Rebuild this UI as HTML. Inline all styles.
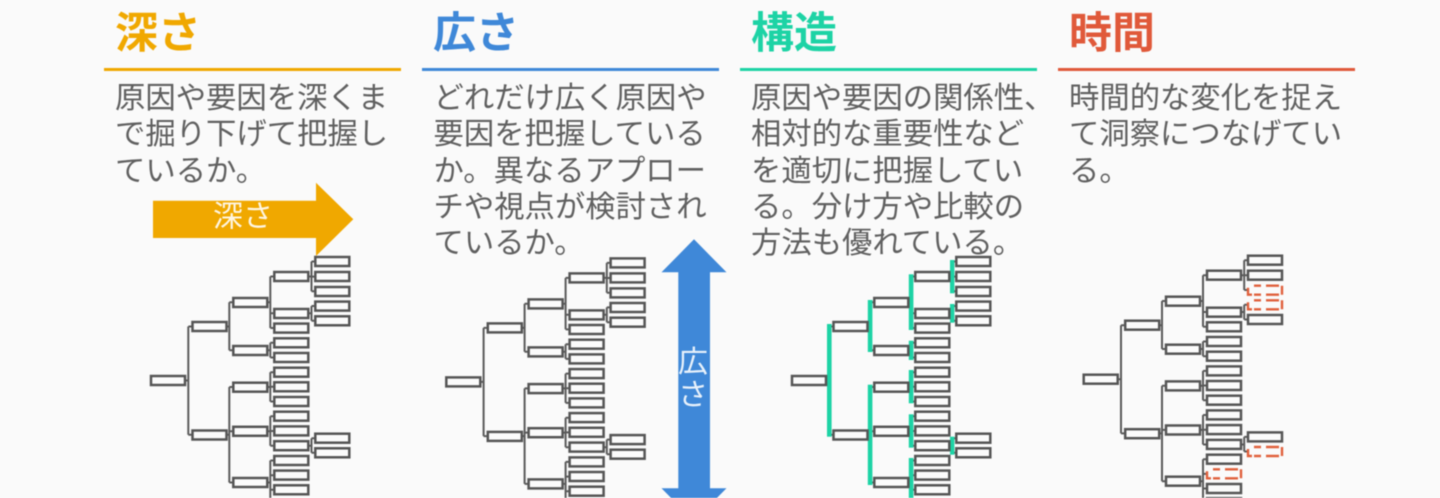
<!DOCTYPE html>
<html lang="ja">
<head>
<meta charset="utf-8">
<title>深さ 広さ 構造 時間</title>
<style>
html,body{margin:0;padding:0;background:#fafafa;width:1440px;height:498px;overflow:hidden}
svg{display:block;position:absolute;left:0;top:0;filter:blur(0.45px)}
text{font-family:"Liberation Sans","Noto Sans CJK JP",sans-serif}
.t{font-size:43px;font-weight:700}
.b{font-size:30.35px;fill:#606060}
.a{font-size:30px;fill:rgba(255,255,255,.88);font-weight:400;text-anchor:middle}
.box rect,rect.box{fill:#fbfbfb;stroke:#555;stroke-width:2.5}
.ln{fill:none;stroke:#5a5a5a;stroke-width:2}
.dash{fill:none;stroke:#e0603c;stroke-width:2.4;stroke-dasharray:0 6 7 5 13 3 9 3 13 5 7 2 11 4}
.g{fill:#1dd3a5}
</style>
</head>
<body>
<svg width="1440" height="498" viewBox="0 0 1440 498" xmlns="http://www.w3.org/2000/svg">
<defs>
<path id="lines" class="ln" d="M186 380.5H188.3M188.3 326.5V434.7M188.3 326.5H192M188.3 434.7H192
M227 326.5H229.3M229.3 302.3V350.3M229.3 302.3H233M229.3 350.3H233
M227 434.7H229.3M229.3 387V482.5M229.3 387H233M229.3 431.2H233M229.3 482.5H233
M268 302.3H270.3M270.3 276.5V328M270.3 276.5H274M270.3 313.3H274M270.3 328H274
M268 350.3H270.3M270.3 342.8V357.5M270.3 342.8H274M270.3 357.5H274
M268 387H270.3M270.3 372.2V401.5M270.3 372.2H274M270.3 386.8H274M270.3 401.5H274
M268 431.2H270.3M270.3 416.3V445.8M270.3 416.3H274M270.3 431H274M270.3 445.8H274
M268 482.5H270.3M270.3 460.5V502M270.3 460.5H274M270.3 475.2H274M270.3 489.8H274
M309 276.5H311.5M311.5 261.5V291.3M311.5 261.5H315M311.5 276.6H315M311.5 291.3H315
M309 313.3H311.5M311.5 306V320.8M311.5 306H315M311.5 320.8H315
M309 445.8H311.5M311.5 438.2V452.8M311.5 438.2H315M311.5 452.8H315"/>
<g id="boxes" class="box">
<rect x="151" y="376" width="34" height="9"/>
<rect x="192.5" y="322" width="34" height="9"/>
<rect x="192.5" y="430.5" width="34" height="9"/>
<rect x="233.3" y="298" width="34" height="9"/>
<rect x="233.3" y="346" width="34" height="9"/>
<rect x="233.3" y="382.7" width="34" height="9"/>
<rect x="233.3" y="426.8" width="34" height="9"/>
<rect x="233.3" y="478" width="34" height="9"/>
<rect x="274.3" y="272" width="34" height="9"/>
<rect x="274.3" y="309" width="34" height="9"/>
<rect x="274.3" y="323.6" width="34" height="9"/>
<rect x="274.3" y="338.3" width="34" height="9"/>
<rect x="274.3" y="353" width="34" height="9"/>
<rect x="274.3" y="367.7" width="34" height="9"/>
<rect x="274.3" y="382.3" width="34" height="9"/>
<rect x="274.3" y="397" width="34" height="9"/>
<rect x="274.3" y="411.7" width="34" height="9"/>
<rect x="274.3" y="426.4" width="34" height="9"/>
<rect x="274.3" y="441.2" width="34" height="9"/>
<rect x="274.3" y="456" width="34" height="9"/>
<rect x="274.3" y="485.3" width="34" height="9"/>
<rect x="315.3" y="257" width="34" height="9"/>
<rect x="315.3" y="272" width="34" height="9"/>
<rect x="315.3" y="316.3" width="34" height="9"/>
<rect x="315.3" y="433.7" width="34" height="9"/>
</g>
<g id="extra" class="box">
<rect x="274.3" y="470.6" width="34" height="9"/>
<rect x="315.3" y="287" width="34" height="9"/>
<rect x="315.3" y="301.6" width="34" height="9"/>
<rect x="315.3" y="448.3" width="34" height="9"/>
</g>
</defs>

<!-- Titles -->
<text class="t" x="115" y="48" fill="#f0a800">深さ</text>
<text class="t" x="433" y="48" fill="#3f88d8">広さ</text>
<text class="t" x="751" y="48" fill="#1dd3a5">構造</text>
<text class="t" x="1069" y="48" fill="#e0593a">時間</text>

<!-- Rules -->
<rect x="104" y="68" width="297" height="3" fill="#f0a800"/>
<rect x="422" y="68" width="297" height="3" fill="#3f88d8"/>
<rect x="740" y="68" width="297" height="3" fill="#1dd3a5"/>
<rect x="1058" y="68" width="297" height="3" fill="#e0593a"/>

<!-- Body text -->
<g class="b">
<text class="b" x="115" y="108">原因や要因を深くま</text>
<text class="b" x="115" y="144">で掘り下げて把握し</text>
<text class="b" x="115" y="181">ているか。</text>

<text class="b" x="433.5" y="108">どれだけ広く原因や</text>
<text class="b" x="433.5" y="144">要因を把握している</text>
<text class="b" x="433.5" y="181">か。異なるアプロー</text>
<text class="b" x="433.5" y="217">チや視点が検討され</text>
<text class="b" x="433.5" y="253">ているか。</text>

<text class="b" x="751" y="108">原因や要因の関係性、</text>
<text class="b" x="751" y="144">相対的な重要性など</text>
<text class="b" x="751" y="181">を適切に把握してい</text>
<text class="b" x="751" y="217">る。分け方や比較の</text>
<text class="b" x="751" y="253">方法も優れている。</text>

<text class="b" x="1069" y="108">時間的な変化を捉え</text>
<text class="b" x="1069" y="144">て洞察につなげてい</text>
<text class="b" x="1069" y="181">る。</text>
</g>

<!-- Orange arrow -->
<polygon points="153,200.7 316,200.7 316,182.7 353.3,219.3 316,256 316,238 153,238" fill="#f0a800"/>
<text class="a" x="243" y="226.5">深さ</text>

<!-- Blue arrow -->
<polygon points="694,239.3 726.5,272.3 710,272.3 710,488.3 726.5,488.3 694,521 661.5,488.3 678.3,488.3 678.3,272.3 661.5,272.3" fill="#3f88d8"/>
<text class="a" x="693" y="372">広</text>
<text class="a" x="693" y="405">さ</text>

<!-- Tree 1 -->
<g>
<use href="#lines"/><use href="#boxes"/><use href="#extra"/>
</g>

<!-- Tree 2 -->
<g transform="translate(295.3 1.4)">
<use href="#lines"/><use href="#boxes"/><use href="#extra"/>
</g>

<!-- Tree 3 -->
<g transform="translate(641 0)">
<use href="#lines"/>
<rect class="g" x="186" y="324" width="4.6" height="112.7"/>
<rect class="g" x="226.8" y="300" width="4.6" height="52"/>
<rect class="g" x="226.8" y="384.7" width="4.6" height="100.3"/>
<rect class="g" x="267.8" y="274.3" width="4.6" height="55.7"/>
<rect class="g" x="267.8" y="340.7" width="4.6" height="19.3"/>
<rect class="g" x="267.8" y="370" width="4.6" height="33.3"/>
<rect class="g" x="267.8" y="414.3" width="4.6" height="33.4"/>
<rect class="g" x="267.8" y="458" width="4.6" height="40"/>
<rect class="g" x="309" y="260" width="4.4" height="33.3"/>
<rect class="g" x="309" y="304" width="4.4" height="18.7"/>
<rect class="g" x="309" y="436.7" width="4.4" height="18"/>
<use href="#boxes"/><use href="#extra"/>
</g>

<!-- Tree 4 -->
<g transform="translate(932.7 -1.3)">
<use href="#lines"/><use href="#boxes"/>
<rect class="box" x="274.3" y="499.5" width="34" height="9"/>
<rect class="dash" x="274.3" y="470.6" width="34" height="9"/>
<rect class="dash" x="315.3" y="287" width="34" height="9"/>
<rect class="dash" x="315.3" y="301.6" width="34" height="9"/>
<rect class="dash" x="315.3" y="448.3" width="34" height="9"/>
</g>
</svg>
</body>
</html>
